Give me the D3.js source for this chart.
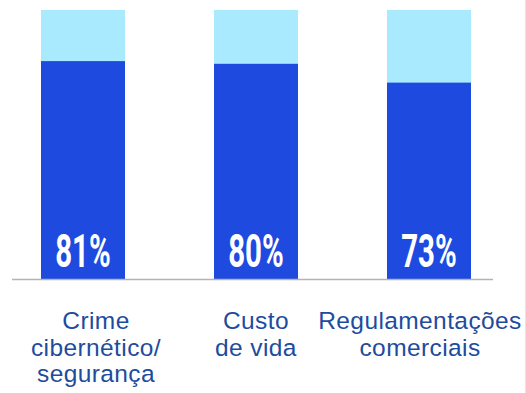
<!DOCTYPE html>
<html>
<head>
<meta charset="utf-8">
<script src="https://cdn.jsdelivr.net/npm/d3@7"></script>
<style>
  html, body { margin: 0; padding: 0; background: #ffffff; }
  svg { display: block; }
</style>
</head>
<body>
<script>
// Share of respondents naming each risk (percent)
const categories = ["Crime cibernético/ segurança", "Custo de vida", "Regulamentações comerciais"];
const labelLines = [["Crime", "cibernético/", "segurança"], ["Custo", "de vida"], ["Regulamentações", "comerciais"]];
const values = [81, 80, 73];
const valueLabels = ["81%", "80%", "73%"];

const W = 526, H = 393;
const baseY = 279, topY = 10;
const darkBlue = "#1e4ae0", lightBlue = "#aaeafe";
// horizontal nudges for the wrapped category captions
const captionShift = [13, 0, -9];

const svg = d3.select("body").append("svg").attr("width", W).attr("height", H);

// bands 84px wide on a 173px step, first one starting at x=41
const x = d3.scaleBand().domain(categories)
  .range([41, 41 + 173 * 2 + 84])
  .paddingInner(89 / 173).paddingOuter(0);
const y = d3.scaleLinear().domain([0, 100]).range([baseY, topY]);

// right edge rule
svg.append("line").attr("x1", 525.5).attr("x2", 525.5).attr("y1", 0).attr("y2", H)
  .attr("stroke", "#e4e4e4").attr("stroke-width", 1);

const g = svg.append("g");

// 100% background bars
g.selectAll("rect.bg").data(categories).join("rect").attr("class", "bg")
  .attr("x", d => x(d)).attr("width", x.bandwidth())
  .attr("y", y(100)).attr("height", y(0) - y(100))
  .attr("fill", lightBlue);

// value bars
g.selectAll("rect.val").data(values).join("rect").attr("class", "val")
  .attr("x", (d, i) => x(categories[i])).attr("width", x.bandwidth())
  .attr("y", d => y(d)).attr("height", d => y(0) - y(d))
  .attr("fill", darkBlue);

// baseline
svg.append("line").attr("x1", 12).attr("x2", 493).attr("y1", baseY + 0.5).attr("y2", baseY + 0.5)
  .attr("stroke", "#b4b4b4").attr("stroke-width", 1.5);

// value labels inside bars
g.selectAll("text.val").data(valueLabels).join("text").attr("class", "val")
  .attr("transform", (d, i) => `translate(${x(categories[i]) + x.bandwidth() / 2},267) scale(0.64,1)`)
  .attr("text-anchor", "middle")
  .attr("font-family", "Roboto, 'Liberation Sans', sans-serif")
  .attr("font-weight", 700)
  .attr("font-size", 46)
  .attr("fill", "#ffffff")
  .text(d => d);

// category captions
const cap = g.selectAll("text.cat").data(labelLines).join("text").attr("class", "cat")
  .attr("text-anchor", "middle")
  .attr("font-family", "'Liberation Sans', Arial, sans-serif")
  .attr("font-size", 24.5)
  .attr("letter-spacing", 0.4)
  .attr("fill", "#1d4c9e");
cap.each(function (lines, i) {
  const cx = x(categories[i]) + x.bandwidth() / 2 + captionShift[i];
  d3.select(this).selectAll("tspan").data(lines).join("tspan")
    .attr("x", cx).attr("y", (d, j) => 329 + j * 26.5)
    .text(d => d);
});
</script>
</body>
</html>
